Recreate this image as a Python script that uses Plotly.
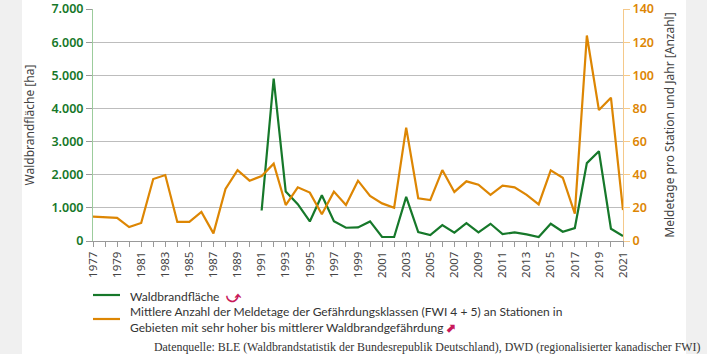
import plotly.graph_objects as go

years = list(range(1977, 2022))
fire_years = list(range(1991, 2022))
fire_area = [920, 4900, 1490, 1110, 590, 1380, 600, 400, 410, 590, 120, 120, 1330,
             270, 180, 480, 250, 540, 260, 520, 210, 260, 200, 120, 520, 280, 390,
             2350, 2710, 370, 150]
fwi_days = [14.7, 14.5, 14.0, 8.4, 10.9, 37.4, 39.8, 11.5, 11.5, 17.5, 4.6, 31.4,
            42.8, 36.4, 39.2, 46.7, 21.7, 32.4, 29.2, 16.1, 29.8, 21.7, 36.4, 27.2,
            22.7, 20.1, 68.4, 25.8, 24.7, 42.8, 29.6, 36.0, 34.0, 27.8, 33.4, 32.4,
            27.8, 22.1, 42.6, 38.2, 16.5, 124.0, 79.0, 86.5, 18.7]
left_ticks = [0, 1000, 2000, 3000, 4000, 5000, 6000, 7000]
left_labels = ["0", "1.000", "2.000", "3.000", "4.000", "5.000", "6.000", "7.000"]
right_ticks = [0, 20, 40, 60, 80, 100, 120, 140]

GREEN = "#16782a"
ORANGE = "#dd8603"
FONT = "Noto Sans"

W, H = 707, 354
L, R, T, B = 93, 84, 9, 113
pw, ph = W - L - R, H - T - B

def px(x):
    return (x - L) / pw

def py(y):
    return (H - B - y) / ph

fig = go.Figure()
fig.add_trace(go.Scatter(x=years, y=fwi_days, yaxis="y2", mode="lines",
                         line=dict(color=ORANGE, width=2.2),
                         name="Mittlere Anzahl der Meldetage", showlegend=False))
fig.add_trace(go.Scatter(x=fire_years, y=fire_area, mode="lines",
                         line=dict(color=GREEN, width=2.2), name="Waldbrandfläche",
                         showlegend=False))

fig.update_layout(
    width=W, height=H,
    margin=dict(l=L, r=R, t=T, b=B, autoexpand=False),
    paper_bgcolor="#f0f0f0",
    plot_bgcolor="white",
    font=dict(family=FONT, size=12, color="#444"),
    xaxis=dict(range=[1977, 2021], tickmode="array", tickvals=list(range(1977, 2022, 2)),
               ticktext=[str(y) for y in range(1977, 2022, 2)],
               tickangle=-90, tickfont=dict(size=11.5, color="#444"),
               showgrid=False, showline=True, linecolor="#999", linewidth=1,
               ticks="outside", ticklen=5, tickcolor="#999",
               minor=dict(dtick=1, ticks="outside", ticklen=5, tickcolor="#999"),
               zeroline=False),
    yaxis=dict(range=[0, 7000], tickvals=left_ticks, ticktext=left_labels,
               tickfont=dict(size=12.5, color=GREEN, family=FONT, weight=600),
               title=dict(text="Waldbrandfläche [ha]", font=dict(size=12, color="#444"), standoff=14),
               showgrid=True, gridcolor="#bdbdbd", gridwidth=1.3,
               showline=True, linecolor="#9ccc9c", linewidth=1,
               ticks="outside", ticklen=6, tickcolor="#999", zeroline=False),
    yaxis2=dict(range=[0, 140], tickvals=right_ticks, overlaying="y", side="right",
                tickfont=dict(size=12.5, color=ORANGE, family=FONT, weight=600),
                title=dict(text="Meldetage pro Station und Jahr [Anzahl]", font=dict(size=12, color="#444"), standoff=12),
                showgrid=False, showline=True, linecolor="#f5c98a", linewidth=1,
                ticks="outside", ticklen=6, tickcolor="#f5c98a", zeroline=False),
)

# white content background
fig.add_shape(type="rect", xref="paper", yref="paper", x0=px(22), x1=px(686), y0=py(H), y1=py(0),
              fillcolor="white", line=dict(width=0), layer="below")

# legend (drawn manually)
LEGFONT = "Lato"
fig.add_shape(type="line", xref="paper", yref="paper", x0=px(93), x1=px(120), y0=py(295), y1=py(295),
              line=dict(color=GREEN, width=2.2))
fig.add_shape(type="line", xref="paper", yref="paper", x0=px(93), x1=px(120), y0=py(319), y1=py(319),
              line=dict(color=ORANGE, width=2.2))
fig.add_annotation(xref="paper", yref="paper", x=px(128), y=py(295), xanchor="left", yanchor="middle",
                   showarrow=False, font=dict(size=12, color="#333", family=LEGFONT),
                   text="Waldbrandfläche  <span style='color:#c8195a;font-size:14px'><b>⤻</b></span>")
fig.add_annotation(xref="paper", yref="paper", x=px(128), y=py(319), xanchor="left", yanchor="middle",
                   showarrow=False, align="left", font=dict(size=12, color="#333", family=LEGFONT),
                   text="Mittlere Anzahl der Meldetage der Gefährdungsklassen (FWI 4 + 5) an Stationen in<br>Gebieten mit sehr hoher bis mittlerer Waldbrandgefährdung <span style='color:#c8195a'><b>⬈</b></span>")
fig.add_annotation(xref="paper", yref="paper", x=px(703), y=py(347), xanchor="right", yanchor="middle",
                   showarrow=False, font=dict(size=11.9, color="#333", family="Liberation Serif"),
                   text="Datenquelle: BLE (Waldbrandstatistik der Bundesrepublik Deutschland), DWD (regionalisierter kanadischer FWI)")

fig.write_html("out.html")
